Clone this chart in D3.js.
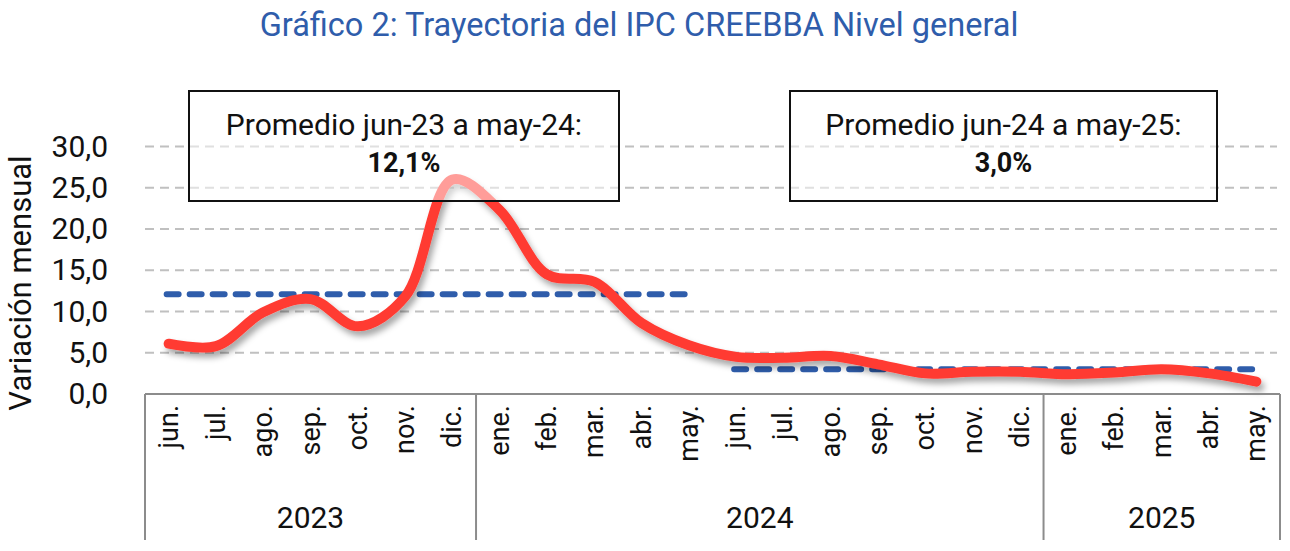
<!DOCTYPE html>
<html>
<head>
<meta charset="utf-8">
<script src="https://cdn.jsdelivr.net/npm/d3@7"></script>
<style>
  body { margin: 0; background: #fff; }
  svg { display: block; font-family: Roboto, "DejaVu Sans", sans-serif; }
</style>
</head>
<body>
<div id="chart"></div>
<script>
// IPC CREEBBA - variacion mensual, jun-23 a may-25

const months = ["jun.", "jul.", "ago.", "sep.", "oct.", "nov.", "dic.",
  "ene.", "feb.", "mar.", "abr.", "may.", "jun.", "jul.", "ago.", "sep.", "oct.", "nov.", "dic.",
  "ene.", "feb.", "mar.", "abr.", "may."];
const values = [6.1, 5.8, 9.9, 11.5, 8.2, 11.8, 26.0,
  22.3, 14.5, 13.6, 8.6, 5.9, 4.5, 4.4, 4.6, 3.6, 2.5, 2.7, 2.7,
  2.4, 2.6, 3.0, 2.5, 1.5];
const years = [
  { label: "2023", from: 0, to: 6 },
  { label: "2024", from: 7, to: 18 },
  { label: "2025", from: 19, to: 23 }
];
const averages = [
  { from: 0, to: 11, value: 12.1, text: "Promedio jun-23 a may-24:", big: "12,1%" },
  { from: 12, to: 23, value: 3.0, text: "Promedio jun-24 a may-25:", big: "3,0%" }
];
const yTicks = [0, 5, 10, 15, 20, 25, 30];

const width = 1290, height = 551;
const left = 145, right = 1280, axisBottom = 540;

const svg = d3.select("#chart").append("svg")
  .attr("width", width)
  .attr("height", height);

const defs = svg.append("defs");
const shadow = defs.append("filter").attr("id", "shadow")
  .attr("x", "-10%").attr("y", "-20%").attr("width", "130%").attr("height", "150%");
shadow.append("feDropShadow")
  .attr("dx", 3).attr("dy", 5).attr("stdDeviation", 3)
  .attr("flood-color", "#000").attr("flood-opacity", 0.35);

const x = d3.scaleBand().domain(d3.range(months.length)).range([left, right]);
const y = d3.scaleLinear().domain([0, 30]).range([394, 146.5]);
const cx = i => x(i) + x.bandwidth() / 2;

// title
svg.append("text")
  .attr("x", 639).attr("y", 36)
  .attr("text-anchor", "middle")
  .attr("fill", "#2f5dab")
  .style("font-size", "32.5px")
  .text("Gráfico 2: Trayectoria del IPC CREEBBA Nivel general");

// gridlines
svg.append("g").selectAll("line")
  .data(yTicks.filter(d => d > 0))
  .join("line")
  .attr("x1", left).attr("x2", 1277)
  .attr("y1", d => y(d)).attr("y2", d => y(d))
  .attr("stroke", "#c0c0c0")
  .attr("stroke-width", 2)
  .attr("stroke-dasharray", "9,6");

// y axis labels
const yAxis = svg.append("g")
  .attr("transform", `translate(${left},0)`)
  .call(d3.axisLeft(y).tickValues(yTicks).tickSize(0).tickPadding(37)
    .tickFormat(d => d3.format(".1f")(d).replace(".", ",")));
yAxis.select(".domain").remove();
yAxis.selectAll("text")
  .style("font-size", "30px")
  .style("font-family", "Roboto, sans-serif")
  .attr("fill", "#111");

svg.append("text")
  .attr("transform", "translate(31,283) rotate(-90)")
  .attr("text-anchor", "middle")
  .attr("fill", "#111")
  .style("font-size", "31px")
  .text("Variación mensual");

// average lines
svg.append("g").selectAll("line")
  .data(averages)
  .join("line")
  .attr("x1", d => cx(d.from) - 2).attr("x2", d => cx(d.to) - 2)
  .attr("y1", d => y(d.value)).attr("y2", d => y(d.value))
  .attr("stroke", "#2f5dab")
  .attr("stroke-width", 6)
  .attr("stroke-linecap", "round")
  .attr("stroke-dasharray", "12,11");

// series line
const line = d3.line()
  .x((d, i) => cx(i))
  .y(d => y(d))
  .curve(d3.curveCatmullRom.alpha(0.5));

svg.append("path")
  .datum(values)
  .attr("d", line)
  .attr("fill", "none")
  .attr("stroke", "#ff3b33")
  .attr("stroke-width", 10)
  .attr("stroke-linecap", "round")
  .attr("stroke-linejoin", "round")
  .attr("filter", "url(#shadow)");

// annotation boxes
const boxes = [
  { x0: 189, x1: 619 },
  { x0: 790, x1: 1217 }
];
boxes.forEach((b, k) => {
  const g = svg.append("g");
  g.append("rect")
    .attr("x", b.x0).attr("y", 91)
    .attr("width", b.x1 - b.x0).attr("height", 110)
    .attr("fill", "#fff").attr("fill-opacity", 0.5)
    .attr("stroke", "#111").attr("stroke-width", 2);
  const mid = (b.x0 + b.x1) / 2;
  g.append("text")
    .attr("x", mid).attr("y", 135)
    .attr("text-anchor", "middle")
    .attr("fill", "#111")
    .style("font-size", "30px")
    .text(averages[k].text);
  g.append("text")
    .attr("x", mid).attr("y", 172)
    .attr("text-anchor", "middle")
    .attr("fill", "#111")
    .style("font-size", "27px")
    .style("font-weight", "bold")
    .text(averages[k].big);
});

// category axis box
const axisG = svg.append("g");
axisG.append("line")
  .attr("x1", left).attr("x2", right)
  .attr("y1", y(0)).attr("y2", y(0))
  .attr("stroke", "#8c8c8c").attr("stroke-width", 2);

const seps = [left].concat(years.map(d => x(d.to) + x.bandwidth()));
axisG.selectAll("line.sep")
  .data(seps)
  .join("line")
  .attr("class", "sep")
  .attr("x1", d => d).attr("x2", d => d)
  .attr("y1", y(0)).attr("y2", axisBottom)
  .attr("stroke", "#8c8c8c").attr("stroke-width", 2);

axisG.selectAll("text.month")
  .data(months)
  .join("text")
  .attr("class", "month")
  .attr("transform", (d, i) => `translate(${cx(i) + 9},405) rotate(-90)`)
  .attr("text-anchor", "end")
  .attr("fill", "#111")
  .style("font-size", "27px")
  .text(d => d);

axisG.selectAll("text.year")
  .data(years)
  .join("text")
  .attr("class", "year")
  .attr("x", d => (x(d.from) + x(d.to) + x.bandwidth()) / 2)
  .attr("y", 528)
  .attr("text-anchor", "middle")
  .attr("fill", "#111")
  .style("font-size", "30px")
  .text(d => d.label);
</script>
</body>
</html>
